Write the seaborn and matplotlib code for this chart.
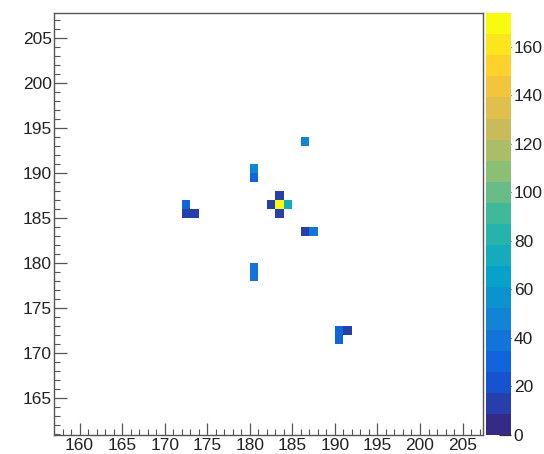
import numpy as np
import matplotlib
matplotlib.use("Agg")
import matplotlib.pyplot as plt
import seaborn as sns
from matplotlib.colors import LinearSegmentedColormap, ListedColormap

# ---- data (bin centres and contents) ----
x_bins = [186, 180, 180, 172, 172, 173, 183, 182, 183, 184, 183, 186, 187, 180, 180, 190, 191, 190]
y_bins = [193, 190, 189, 186, 185, 185, 187, 186, 186, 186, 185, 183, 183, 179, 178, 172, 172, 171]
counts = [50, 50, 32, 30, 14, 14, 10, 12, 172, 78, 10, 12, 38, 35, 35, 32, 10, 30]

x_ticks = [160, 165, 170, 175, 180, 185, 190, 195, 200, 205]
y_ticks = [165, 170, 175, 180, 185, 190, 195, 200, 205]
z_ticks = [0, 20, 40, 60, 80, 100, 120, 140, 160]

x_range = (157.0, 207.4)
y_range = (160.9, 207.8)
z_max = 174.0

sns.set_style("white")
plt.rcParams['font.family'] = ['Liberation Sans', 'DejaVu Sans']

# ROOT kBird palette
red = [0.2082, 0.0592, 0.0780, 0.0232, 0.1802, 0.5301, 0.8186, 0.9956, 0.9764]
green = [0.1664, 0.3599, 0.5041, 0.6419, 0.7178, 0.7492, 0.7328, 0.7862, 0.9832]
blue = [0.5293, 0.8684, 0.8385, 0.7914, 0.6425, 0.4662, 0.3499, 0.1968, 0.0539]
bird = LinearSegmentedColormap.from_list("bird", list(zip(red, green, blue)))
cmap = ListedColormap([bird(v) for v in np.linspace(0, 1, 20)])

fig = plt.figure(figsize=(5.44, 4.54), dpi=100)
ax = fig.add_axes([54 / 544, 1 - 435 / 454, (483 - 54) / 544, (435 - 13) / 454])
cax = fig.add_axes([486 / 544, 1 - 435 / 454, (511 - 486) / 544, (435 - 13) / 454])

xedges = np.arange(157, 209)
yedges = np.arange(160, 210)
sns.histplot(x=np.array(x_bins) + 0.5, y=np.array(y_bins) + 0.5, weights=counts,
             bins=(xedges, yedges), cmap=cmap, cbar=False, ax=ax)
mesh = ax.collections[0]
mesh.set_clim(0, z_max)

ax.set_xlim(*x_range)
ax.set_ylim(*y_range)
ax.set_xlabel("")
ax.set_ylabel("")

ax.set_xticks(x_ticks)
ax.set_yticks(y_ticks)
ax.set_xticks(np.arange(158, 208), minor=True)
ax.set_yticks(np.arange(161, 208), minor=True)
ax.tick_params(which="major", direction="in", length=9, width=0.9, color="#555555",
               labelsize=12.5, labelcolor="#222222")
ax.tick_params(which="minor", direction="in", length=4.5, width=0.8, color="#555555")
ax.tick_params(axis="x", which="both", bottom=True, top=False, pad=2)
ax.tick_params(axis="y", which="both", left=True, right=False, pad=1.5)
for s in ax.spines.values():
    s.set_visible(True)
    s.set_color("#555555")
    s.set_linewidth(1.0)

cb = fig.colorbar(mesh, cax=cax)
cb.outline.set_visible(False)
cb.set_ticks(z_ticks)
cax.tick_params(direction="in", length=9, width=0.9, color="#333333",
                labelsize=12.5, labelcolor="#222222", pad=2)

fig.savefig("out.png", dpi=100)
